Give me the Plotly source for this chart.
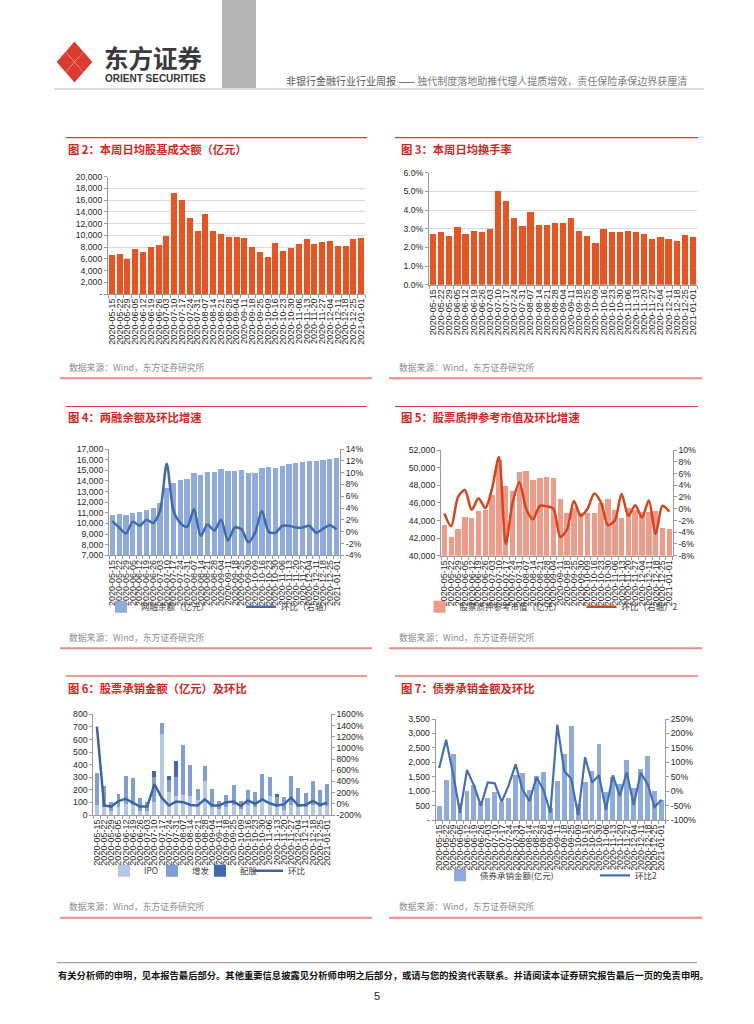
import plotly.graph_objects as go

W, H = 754, 1024


def X(px):
    return px / W


def Y(py):
    return 1 - py / H


# ---------------- data ----------------
dates33 = ["2020-05-15", "2020-05-22", "2020-05-29", "2020-06-05", "2020-06-12", "2020-06-19",
           "2020-06-26", "2020-07-03", "2020-07-10", "2020-07-17", "2020-07-24", "2020-07-31",
           "2020-08-07", "2020-08-14", "2020-08-21", "2020-08-28", "2020-09-04", "2020-09-11",
           "2020-09-18", "2020-09-25", "2020-10-09", "2020-10-16", "2020-10-23", "2020-10-30",
           "2020-11-06", "2020-11-13", "2020-11-20", "2020-11-27", "2020-12-04", "2020-12-11",
           "2020-12-18", "2020-12-25", "2021-01-01"]
dates34 = ["2020-05-15", "2020-05-22", "2020-05-29", "2020-06-05", "2020-06-12", "2020-06-19",
           "2020-06-26", "2020-07-03", "2020-07-10", "2020-07-17", "2020-07-24", "2020-07-31",
           "2020-08-07", "2020-08-14", "2020-08-21", "2020-08-28", "2020-09-04", "2020-09-11",
           "2020-09-18", "2020-09-25", "2020-09-30", "2020-10-09", "2020-10-16", "2020-10-23",
           "2020-10-30", "2020-11-06", "2020-11-13", "2020-11-20", "2020-11-27", "2020-12-04",
           "2020-12-11", "2020-12-18", "2020-12-25", "2021-01-01"]

# 图2 本周日均股基成交额（亿元）
turnover = [6600, 6900, 5900, 7600, 7100, 8000, 8300, 9900, 17300, 16000, 12900, 10800,
            13600, 10700, 10200, 9700, 9700, 9600, 8000, 7200, 6300, 8700, 7400, 7800,
            8600, 9300, 8500, 8800, 9100, 8100, 8100, 9400, 9500]
# 图3 本周日均换手率 (%)
turnover_rate = [2.7, 2.85, 2.6, 3.1, 2.7, 2.9, 2.8, 3.0, 5.0, 4.5, 3.6, 3.15, 3.9, 3.2, 3.2,
                 3.3, 3.28, 3.55, 2.9, 2.6, 2.25, 3.0, 2.8, 2.85, 2.9, 2.85, 2.7, 2.45, 2.55,
                 2.45, 2.35, 2.65, 2.55]
# 图4 两融余额（亿元）及环比（%）
margin_balance = [10800, 10850, 10800, 11000, 11100, 11300, 11450, 11900, 13300, 13800,
                  14050, 14150, 14700, 14600, 14800, 14800, 15100, 14900, 14950, 15000,
                  14700, 14700, 15250, 15300, 15250, 15400, 15550, 15650, 15750, 15850,
                  15850, 15950, 16100, 16150]
margin_qoq = [1.8, 0.7, -0.3, 1.7, 1.0, 2.0, 1.5, 3.5, 11.5, 3.5, 1.5, 0.8, 3.8, -0.7, 1.2,
              0.2, 2.0, -1.5, 0.7, 0.4, -1.8, -0.2, 3.5, 0.0, -0.2, 1.0, 1.0, 0.7, 0.7, 1.0,
              -0.2, 0.5, 1.1, 0.4]
# 图5 股票质押参考市值（亿元）及环比（%）
pledge_value = [43500, 42150, 43050, 44350, 44300, 45100, 45200, 46900, 50900, 47900,
                47400, 49500, 49600, 48600, 48800, 48950, 48800, 46450, 44800, 45450,
                44800, 44800, 44800, 46000, 46450, 45200, 44250, 45400, 45200, 45000,
                45000, 45050, 43200, 43050]
pledge_qoq = [-0.8, -3.0, 2.0, 3.2, -0.2, 1.8, 0.1, 3.5, 8.8, -6.0, 1.0, 4.5, 0.0, -1.8, 0.5,
              0.4, 0.0, -4.8, -3.5, 1.3, -1.2, 0.0, 2.6, 1.0, -2.8, -2.0, 2.5, -1.2, 0.6,
              -1.5, 1.4, -4.3, 0.5, -0.5]
# 图6 股票承销金额（亿元）及环比（%）
ipo = [80, 60, 30, 60, 90, 80, 30, 30, 100, 640, 180, 150, 160, 150, 120, 270, 60, 50, 60,
       80, 50, 80, 60, 120, 150, 60, 40, 80, 60, 60, 80, 60, 70]
seo = [250, 170, 75, 105, 220, 215, 105, 70, 205, 90, 100, 150, 395, 245, 90, 120, 145, 65,
       100, 155, 65, 115, 125, 205, 155, 80, 100, 230, 155, 115, 190, 140, 175]
rights = [0, 0, 0, 0, 0, 0, 0, 0, 45, 0, 30, 130, 0, 0, 0, 0, 0, 0, 0, 0, 0, 0, 0, 0, 0, 30,
          0, 0, 0, 0, 0, 0, 0]
equity_qoq = [1380, -30, -50, 50, 90, 20, -50, -50, 350, 110, -30, 40, 30, -20, -30, 80, -30,
              -30, 30, 40, -40, 60, 0, 80, 10, -30, -10, 110, -30, -20, 50, -20, 20]
# 图7 债券承销金额（亿元）及环比（%）
bond_amt = [500, 1400, 2280, 580, 1000, 1200, 600, 770, 960, 620, 760, 1550, 1640, 1050,
            1530, 1650, 410, 1350, 2300, 3270, 560, 1310, 1700, 2620, 960, 1480, 1260, 2080,
            1100, 1780, 2220, 1000, 700]
bond_qoq = [80, 178, 60, -75, 73, 20, -50, 30, 27, -37, 20, 93, 5, -35, 48, 5, -75, 230, 70,
            43, -83, 117, 30, 55, -65, 55, -17, 65, -48, 63, 25, -55, -30]

# tick values
y2_ticks = list(range(0, 20001, 2000))
y3_ticks = [0, 1, 2, 3, 4, 5, 6]
y4_left_ticks = list(range(7000, 17001, 1000))
y4_right_ticks = list(range(-4, 15, 2))
y5_left_ticks = list(range(40000, 52001, 2000))
y5_right_ticks = list(range(-8, 11, 2))
y6_left_ticks = list(range(0, 801, 100))
y6_right_ticks = list(range(-200, 1601, 200))
y7_left_ticks = list(range(0, 3501, 500))
y7_right_ticks = list(range(-100, 251, 50))

# ---------------- style ----------------
CJK = "Noto Sans CJK SC"
NUM = "Liberation Sans, Arial, sans-serif"
AX = "#9A9A9A"
TXT = "#262626"
ORANGE = "#E9531F"
TITLE_RED = "#D9231D"

yf = dict(family=NUM, size=8.7, color=TXT)
xf = dict(family=NUM, size=9, color=TXT)


def comma(v):
    return "-" if v == 0 else f"{v:,}"


def xaxis_cfg(x0, x1, anchor):
    return dict(domain=[X(x0), X(x1)], anchor=anchor, type="category", tickangle=-90,
                tickfont=xf, showline=True, linecolor=AX, linewidth=1, ticks="outside",
                tickson="boundaries", ticklen=3, tickcolor=AX, showgrid=False,
                zeroline=False, automargin=False, fixedrange=True, dtick=1)


def yaxis_cfg(y0, y1, anchor, rng, tv, tt, grid=False):
    return dict(domain=[Y(y1), Y(y0)], anchor=anchor, range=rng, tickmode="array",
                tickvals=tv, ticktext=tt, tickfont=yf, showline=True, linecolor=AX,
                linewidth=1, ticks="outside", ticklen=3, tickcolor=AX, showgrid=grid,
                gridcolor="#D9D9D9", gridwidth=1, zeroline=False, automargin=False,
                fixedrange=True)


def yaxis_right(overlay, anchor, rng, tv, tt):
    return dict(overlaying=overlay, anchor=anchor, side="right", range=rng, tickmode="array",
                tickvals=tv, ticktext=tt, tickfont=yf, showline=True, linecolor=AX,
                linewidth=1, ticks="outside", ticklen=3, tickcolor=AX, showgrid=False,
                zeroline=False, automargin=False, fixedrange=True)


fig = go.Figure()

# 图2
fig.add_trace(go.Bar(x=dates33, y=turnover, name="日均股基成交额", marker=dict(color=ORANGE),
                     width=0.77, xaxis="x", yaxis="y", showlegend=False))
# 图3
fig.add_trace(go.Bar(x=dates33, y=turnover_rate, name="日均换手率", marker=dict(color=ORANGE),
                     width=0.77, xaxis="x2", yaxis="y2", showlegend=False))
# 图4
fig.add_trace(go.Bar(x=dates34, y=margin_balance, name="两融余额（亿元）",
                     marker=dict(color="#8FAADC"), width=0.78, xaxis="x3", yaxis="y3",
                     legend="legend"))
fig.add_trace(go.Scatter(x=dates34, y=margin_qoq, name="环比（右轴）", mode="lines",
                         line=dict(color="#3E6BAE", width=2.5, shape="spline", smoothing=0.8),
                         xaxis="x3", yaxis="y4", legend="legend"))
# 图5
fig.add_trace(go.Bar(x=dates34, y=pledge_value, name="股票质押参考市值（亿元）",
                     marker=dict(color="#F09B8A"), width=0.8, xaxis="x4", yaxis="y5",
                     legend="legend2"))
fig.add_trace(go.Scatter(x=dates34, y=pledge_qoq, name="环比（右轴）2", mode="lines",
                         line=dict(color="#D8431B", width=2.5, shape="spline", smoothing=0.8),
                         xaxis="x4", yaxis="y6", legend="legend2"))
# 图6
fig.add_trace(go.Bar(x=dates33, y=ipo, name="IPO", marker=dict(color="#B4C7E7"), width=0.55,
                     xaxis="x5", yaxis="y7", legend="legend3"))
fig.add_trace(go.Bar(x=dates33, y=seo, name="增发", marker=dict(color="#7F9FD3"), width=0.55,
                     xaxis="x5", yaxis="y7", legend="legend3"))
fig.add_trace(go.Bar(x=dates33, y=rights, name="配股", marker=dict(color="#3F6BAE"), width=0.55,
                     xaxis="x5", yaxis="y7", legend="legend3"))
fig.add_trace(go.Scatter(x=dates33, y=equity_qoq, name="环比", mode="lines",
                         line=dict(color="#3A65A4", width=2.5), legendwidth=24,
                         xaxis="x5", yaxis="y8", legend="legend3"))
# 图7
fig.add_trace(go.Bar(x=dates33, y=bond_amt, name="债券承销金额(亿元)",
                     marker=dict(color="#8FAADC"), width=0.7, xaxis="x6", yaxis="y9",
                     legend="legend4"))
fig.add_trace(go.Scatter(x=dates33, y=bond_qoq, name="环比2", mode="lines",
                         line=dict(color="#4470B2", width=2.2),
                         xaxis="x6", yaxis="y10", legend="legend4"))

legend_common = dict(orientation="h", xanchor="left", yanchor="middle", itemwidth=30,
                     bgcolor="rgba(0,0,0,0)", borderwidth=0, traceorder="normal",
                     entrywidthmode="pixels", font=dict(family=CJK, size=8.5, color="#404040"),
                     itemclick=False, itemdoubleclick=False)

fig.update_layout(
    width=W, height=H, autosize=False,
    margin=dict(l=0, r=0, t=0, b=0, pad=0),
    paper_bgcolor="white", plot_bgcolor="white",
    template="none", barmode="stack", hovermode=False,
    font=dict(family=CJK, color=TXT),
    # 图2
    xaxis=xaxis_cfg(108, 365, "y"),
    yaxis=yaxis_cfg(176.7, 294, "x", [0, 20000], y2_ticks, [comma(v) for v in y2_ticks], grid=True),
    # 图3
    xaxis2=xaxis_cfg(429, 697, "y2"),
    yaxis2=yaxis_cfg(172.7, 284.7, "x2", [0, 6], y3_ticks, [f"{v:.1f}%" for v in y3_ticks], grid=True),
    # 图4
    xaxis3=xaxis_cfg(109, 340, "y3"),
    yaxis3=yaxis_cfg(449, 555.3, "x3", [7000, 17000], y4_left_ticks, [comma(v) for v in y4_left_ticks]),
    yaxis4=yaxis_right("y3", "x3", [-4, 14], y4_right_ticks, [f"{v}%" for v in y4_right_ticks]),
    # 图5
    xaxis4=xaxis_cfg(441, 672.7, "y5"),
    yaxis5=yaxis_cfg(450, 555.7, "x4", [40000, 52000], y5_left_ticks, [comma(v) for v in y5_left_ticks]),
    yaxis6=yaxis_right("y5", "x4", [-8, 10], y5_right_ticks, [f"{v}%" for v in y5_right_ticks]),
    # 图6
    xaxis5=xaxis_cfg(93.3, 330.7, "y7"),
    yaxis7=yaxis_cfg(714.3, 815, "x5", [0, 800], y6_left_ticks, [str(v) for v in y6_left_ticks]),
    yaxis8=yaxis_right("y7", "x5", [-200, 1600], y6_right_ticks, [f"{v}%" for v in y6_right_ticks]),
    # 图7
    xaxis6=xaxis_cfg(435.7, 665, "y9"),
    yaxis9=yaxis_cfg(719, 820, "x6", [0, 3500], y7_left_ticks, [comma(v) for v in y7_left_ticks]),
    yaxis10=yaxis_right("y9", "x6", [-100, 250], y7_right_ticks, [f"{v}%" for v in y7_right_ticks]),
    legend=dict(legend_common, x=X(101), y=Y(606.7), entrywidth=95),
    legend2=dict(legend_common, x=X(419.5), y=Y(606.7), entrywidth=117),
    legend3=dict(legend_common, x=X(104), y=Y(870.7), entrywidth=3),
    legend4=dict(legend_common, x=X(440), y=Y(875.3), entrywidth=110),
)

shapes = []


def hline(x0, x1, y, color, width):
    shapes.append(dict(type="line", xref="paper", yref="paper", x0=X(x0), x1=X(x1),
                       y0=Y(y), y1=Y(y), line=dict(color=color, width=width)))


def diamond(cx, cy, dx, dy, color):
    pts = [(cx, cy - dy), (cx + dx, cy), (cx, cy + dy), (cx - dx, cy)]
    path = "M " + " L ".join(f"{X(px):.5f},{Y(py):.5f}" for px, py in pts) + " Z"
    shapes.append(dict(type="path", xref="paper", yref="paper", path=path,
                       fillcolor=color, line=dict(color=color, width=1.5)))


# header logo (four red petals)
LCX, LCY = 74.5, 62
for ox, oy in [(0, -10.3), (-9.0, 0), (9.0, 0), (0, 10.3)]:
    diamond(LCX + ox, LCY + oy, 7.8, 9.0, "#DC3B30")
shapes.append(dict(type="rect", xref="paper", yref="paper", x0=X(222), x1=X(256), y0=Y(88),
                   y1=Y(0), fillcolor="#B4B4B4", line=dict(width=0), layer="below"))
hline(54, 704, 89, "#D2D2D2", 1.5)

# section lines
for y in [137.7, 406.5, 676]:
    hline(66, 367, y, "#E03A32", 1.2)
    hline(395, 698, y, "#E03A32", 1.2)
for y in [378.3, 648.3, 917.7]:
    hline(60, 372, y, "#EE8A8A", 2)
    hline(389, 702, y, "#EE8A8A", 2)
# footer
hline(57, 697, 962.7, "#8A8A8A", 1)

annotations = []


def text(s, x, y, size, color, family=CJK, xanchor="left"):
    annotations.append(dict(text=s, xref="paper", yref="paper", x=X(x), y=Y(y),
                            xanchor=xanchor, yanchor="middle", showarrow=False,
                            font=dict(family=family, size=size, color=color)))


text("<b>东方证券</b>", 102, 57.5, 24.5, "#3A3A3A")
text("<b>ORIENT SECURITIES</b>", 103, 78.5, 10, "#333333", family=NUM)
text("非银行金融行业行业周报 —— <span style='color:#7A7A7A'>独代制度落地助推代理人提质增效，责任保险承保边界获厘清</span>",
     284, 80, 10, "#555555")

titles = [("图 2：本周日均股基成交额（亿元）", 66, 149),
          ("图 3：本周日均换手率", 399, 149),
          ("图 4：两融余额及环比增速", 66, 417.3),
          ("图 5：股票质押参考市值及环比增速", 399, 417.3),
          ("图 6：股票承销金额（亿元）及环比", 66, 687.5),
          ("图 7：债券承销金额及环比", 399, 687.5)]
for s, x, y in titles:
    text(f"<b>{s}</b>", x, y, 11.3, TITLE_RED)

for y in [367.7, 637.3, 906.7]:
    text("数据来源：Wind，东方证券研究所", 66.5, y, 8.8, "#8C8C8C")
    text("数据来源：Wind，东方证券研究所", 396.5, y, 8.8, "#8C8C8C")

text("<b>有关分析师的申明，见本报告最后部分。其他重要信息披露见分析师申明之后部分，或请与您的投资代表联系。并请阅读本证券研究报告最后一页的免责申明。</b>",
     56, 975, 9.3, "#111111")
text("5", 377, 996, 11, "#222222", family=NUM, xanchor="center")

fig.update_layout(shapes=shapes, annotations=annotations)

fig.write_html("out.html", config={"displayModeBar": False, "staticPlot": True},
               post_script="document.body.style.margin='0';document.body.style.overflow='hidden';")
